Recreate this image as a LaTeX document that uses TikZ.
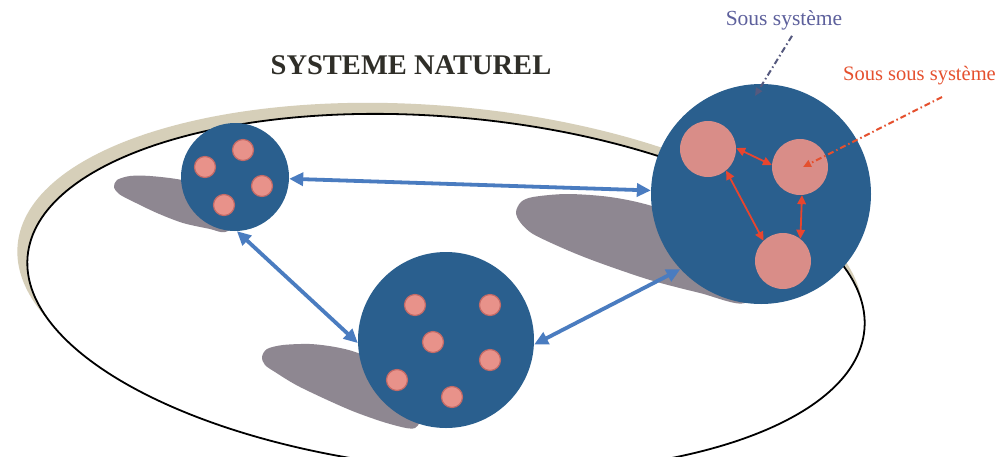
\documentclass[tikz,border=0pt]{standalone}
\usepackage{fontspec}
\setmainfont{Liberation Serif}
\usetikzlibrary{arrows.meta}
\definecolor{deepblue}{HTML}{2A5F8E}
\definecolor{dotpink}{HTML}{E8928A}
\definecolor{dotrim}{HTML}{C46A66}
\definecolor{bigpink}{HTML}{D98D88}
\definecolor{shadowgrey}{HTML}{8E8791}
\definecolor{tanband}{HTML}{D6CFB9}
\definecolor{linkblue}{HTML}{4A7CC0}
\definecolor{linkred}{HTML}{E8452E}
\definecolor{ssblue}{HTML}{5D609C}
\definecolor{ssline}{HTML}{55597E}
\definecolor{ssred}{HTML}{E5502E}
\definecolor{titlecol}{HTML}{2F2E28}
\begin{document}
\begin{tikzpicture}[x=1pt,y=-1pt,
  sys/.style={circle, fill=deepblue, inner sep=0pt},
  dot/.style={circle, fill=dotpink, draw=dotrim, line width=1.2pt, inner sep=0pt, minimum size=21pt},
  sub/.style={circle, fill=bigpink, inner sep=0pt, minimum size=56pt},
  shade/.style={fill=shadowgrey},
  blink/.style={draw=linkblue, line width=3.8pt, {Triangle[length=14pt,width=13pt]}-{Triangle[length=14pt,width=13pt]}},
  rlink/.style={draw=linkred, line width=1.8pt, {Triangle[length=9pt,width=8.5pt]}-{Triangle[length=9pt,width=8.5pt]}},
  ddash/.style={line width=2pt, dash pattern=on 6pt off 3pt on 1.5pt off 3pt, -{Triangle[length=8pt,width=7pt]}},
  lbl/.style={inner sep=0pt, anchor=base}
]
\useasboundingbox (0,0) rectangle (997,456);
\clip (0,0) rectangle (997,456);
\fill[white] (0,0) rectangle (997,456);

% natural system
\fill[tanband, rotate around={-5:(440,282)}] (440,282) ellipse [x radius=424, y radius=176];
\draw[line width=1.8pt, fill=white, rotate around={-5:(446,293)}] (446,293) ellipse [x radius=420, y radius=176];

% shadows
\fill[shade] plot[smooth cycle] coordinates {(114,187) (117,180) (130,176) (150,176) (182,180) (215,190) (240,220) (225,232) (210,229) (183,223) (157,213) (132,201) (119,194)};
\fill[shade] plot[smooth cycle] coordinates {(262,357) (267,349) (283,345) (310,344) (335,347) (358,353) (395,370) (420,410) (415,428) (390,424) (350,410) (300,387) (275,372) (265,365)};
\fill[shade] plot[smooth cycle] coordinates {(516,212) (521,202) (533,197) (567,194) (610,197) (652,206) (720,230) (760,270) (745,303) (700,293) (650,280) (600,263) (567,250) (533,234) (520,222)};

% sub systems
\node[sys, minimum size=108pt] (S1) at (235,177) {};
\node[sys, minimum size=176pt] (S2) at (446,340) {};
\node[sys, minimum size=220pt] (S3) at (761,194) {};

\node[dot] (d11) at (243,150) {};
\node[dot] (d12) at (205,167) {};
\node[dot] (d13) at (262,186) {};
\node[dot] (d14) at (224,205) {};

\node[dot] (d21) at (415,305) {};
\node[dot] (d22) at (490,305) {};
\node[dot] (d23) at (433,342) {};
\node[dot] (d24) at (490,360) {};
\node[dot] (d25) at (397,380) {};
\node[dot] (d26) at (452,397) {};

\node[sub] (A) at (708,149) {};
\node[sub] (B) at (800,167) {};
\node[sub] (C) at (783,261) {};

% links
\draw[blink] (S1) -- (S3);
\draw[blink] (S1.-88) -- (S2.182);
\draw[blink] (S2.-3) -- (S3.223);

\draw[rlink] (A.2) -- (B.176);
\draw[rlink] (A.-50) -- (C.134);
\draw[rlink] (B.-86) -- (C.52);

% labels
\node[lbl, text=titlecol, font=\bfseries\fontsize{28.5}{30}\selectfont] (T) at (411,74) {SYSTEME NATUREL};
\node[lbl, text=ssblue, font=\fontsize{21.5}{24}\selectfont] (L1) at (784,25) {Sous système};
\node[lbl, text=ssred, font=\fontsize{20.5}{23}\selectfont, anchor=base west] (L2) at (843,80) {Sous sous système};

\coordinate (e1) at (755,96);
\coordinate (s2) at (942,97);
\coordinate (e2) at (803,167);
\draw[ddash, ssline] ([xshift=8pt, yshift=-6pt]L1.south) -- (e1);
\draw[ddash, ssred] (s2) -- (e2);
\end{tikzpicture}
\end{document}
